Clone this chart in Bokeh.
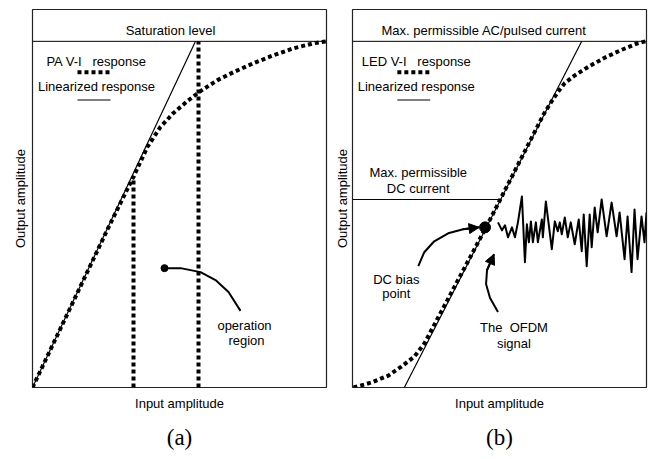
from bokeh.plotting import figure
from bokeh.models import Range1d, Arrow, NormalHead, FixedTicker
from bokeh.core.properties import value
from bokeh.layouts import row
from bokeh.embed import file_html
from bokeh.resources import INLINE

# ---------------- Panel (a): PA response (arbitrary amplitude units) ----------------
pa_x = [0, 75, 101, 115, 128, 141, 155, 168, 185, 201, 221, 241, 261, 281, 294]
pa_y = [0, 159, 212, 242, 262, 276, 288, 298, 309, 317, 326, 334, 341, 346, 348]
pa_lin_x = [0, 163]
pa_lin_y = [0, 348]
pa_sat_level = 348
pa_op_x = [101, 166]          # operation region boundaries (input amplitude)
pa_op_top = [212, 348]        # output amplitude where each boundary ends
pa_arc_x = [132, 148, 168, 183, 196, 208]
pa_arc_y = [120, 120, 116, 108, 96, 77]
pa_leg_x = [45, 78]
pa_leg_dot_y = 317
pa_leg_line_y = 289
pa_text = ["Saturation level", "PA V-I\u00a0\u00a0 response", "Linearized response", "operation", "region"]
pa_text_x = [138, 64, 64, 212, 214]
pa_text_y = [359, 328, 303, 62, 47]

# ---------------- Panel (b): LED response ----------------
led_x = [1, 19, 36, 49, 62, 72, 134, 192, 200, 206, 213, 222, 236, 252, 269, 286, 294]
led_y = [0, 5, 12, 21, 31, 44, 161, 275, 288, 297, 306, 313, 322, 331, 339, 346, 348]
led_lin_x = [52, 230]
led_lin_y = [0, 348]
ac_max = 348
dc_max = 189
dc_end = 146
bias_x = [133]
bias_y = [161]
ofdm_x = [146, 150, 153, 156, 160, 163, 166, 170, 173, 175, 177, 179, 181, 184, 186, 190,
          191, 194, 200, 203, 206, 208, 210, 213, 216, 219, 223, 227, 230, 232, 235, 238,
          240, 243, 246, 250, 255, 260, 265, 268, 273, 276, 280, 283, 286, 290, 293, 295]
ofdm_y = [166, 158, 163, 151, 161, 151, 166, 192, 126, 164, 146, 167, 146, 166, 146, 169,
          151, 187, 139, 167, 157, 166, 154, 171, 151, 166, 144, 169, 137, 174, 122, 174,
          141, 181, 156, 189, 152, 186, 152, 176, 129, 172, 116, 179, 129, 172, 146, 176]
bias_arrow_x = [66, 72, 82, 96, 111, 127]
bias_arrow_y = [122, 136, 147, 155, 159, 161]
sig_arrow_x = [146, 138, 134, 135, 142]
sig_arrow_y = [76, 90, 104, 118, 134]
led_leg_x = [45, 78]
led_leg_dot_y = 317
led_leg_line_y = 289
led_text = ["Max. permissible AC/pulsed current", "LED V-I\u00a0\u00a0 response", "Linearized response",
            "Max. permissible", "DC current", "DC bias", "point", "The\u00a0 OFDM", "signal"]
led_text_x = [132, 64, 64, 66, 66, 44, 44, 162, 162]
led_text_y = [359, 328, 303, 216, 200, 109, 94, 60, 44]

FONT = "Liberation Sans"
SERIF = "Liberation Serif"
DOT = dict(line_width=4, line_dash="4 3", line_color="black", line_cap="butt")


def make_panel(xmax, width, left, right, ystand, caption):
    p = figure(width=width, height=459, x_range=Range1d(0, xmax), y_range=Range1d(0, 380),
               output_backend="svg", toolbar_location=None,
               min_border_left=left, min_border_right=right, min_border_top=9, min_border_bottom=70,
               title=caption, title_location="below")
    p.grid.visible = False
    p.outline_line_color = "#222222"
    p.outline_line_width = 1.2
    for ax in (p.xaxis[0], p.yaxis[0]):
        ax.ticker = FixedTicker(ticks=[])
        ax.axis_line_color = None
        ax.major_tick_line_color = None
        ax.minor_tick_line_color = None
        ax.major_label_standoff = 0
        ax.axis_label_text_font = FONT
        ax.axis_label_text_font_size = "13px"
        ax.axis_label_text_font_style = "normal"
        ax.axis_label_text_color = "black"
    p.xaxis.axis_label = "Input amplitude"
    p.xaxis.axis_label_standoff = 8
    p.yaxis.axis_label = "Output amplitude"
    p.yaxis.axis_label_standoff = ystand
    p.title.align = "center"
    p.title.text_font = SERIF
    p.title.text_font_size = "23px"
    p.title.text_font_style = "normal"
    p.title.text_color = "black"
    p.title.standoff = 19
    return p


def add_texts(p, texts, xs, ys):
    p.text(x=xs, y=ys, text=texts, text_align="center", text_baseline="middle",
           text_font=value(FONT), text_font_size="13px", text_color="black")


# ---- (a)
pa = make_panel(294, 331, 32, 5, 5, "(a)")
pa.line([0, 294], [pa_sat_level, pa_sat_level], line_color="black", line_width=1)
pa.line(pa_lin_x, pa_lin_y, line_color="black", line_width=1.2)
pa.line(pa_x, pa_y, **DOT)
for xv, top in zip(pa_op_x, pa_op_top):
    pa.line([xv, xv], [0, top], **DOT)
pa.line(pa_leg_x, [pa_leg_dot_y, pa_leg_dot_y], **DOT)
pa.line(pa_leg_x, [pa_leg_line_y, pa_leg_line_y], line_color="black", line_width=1.2)
pa.line(pa_arc_x, pa_arc_y, line_color="black", line_width=2)
pa.scatter(pa_arc_x[:1], pa_arc_y[:1], size=7, color="black")
add_texts(pa, pa_text, pa_text_x, pa_text_y)

# ---- (b)
pb = make_panel(295, 318, 20, 3, 3, "(b)")
pb.line([0, 295], [ac_max, ac_max], line_color="black", line_width=1)
pb.line([0, dc_end], [dc_max, dc_max], line_color="black", line_width=1)
pb.line(led_lin_x, led_lin_y, line_color="black", line_width=1.2)
pb.line(led_x, led_y, **DOT)
pb.line(ofdm_x, ofdm_y, line_color="black", line_width=2, line_join="round")
pb.scatter(bias_x, bias_y, size=11, color="black")
pb.line(led_leg_x, [led_leg_dot_y, led_leg_dot_y], **DOT)
pb.line(led_leg_x, [led_leg_line_y, led_leg_line_y], line_color="black", line_width=1.2)
pb.line(bias_arrow_x, bias_arrow_y, line_color="black", line_width=2, line_join="round")
pb.add_layout(Arrow(end=NormalHead(size=10, fill_color="black", line_color="black"),
                    x_start=bias_arrow_x[-2], y_start=bias_arrow_y[-2],
                    x_end=bias_arrow_x[-1], y_end=bias_arrow_y[-1], line_width=2))
pb.line(sig_arrow_x, sig_arrow_y, line_color="black", line_width=2, line_join="round")
pb.add_layout(Arrow(end=NormalHead(size=10, fill_color="black", line_color="black"),
                    x_start=sig_arrow_x[-2], y_start=sig_arrow_y[-2],
                    x_end=sig_arrow_x[-1], y_end=sig_arrow_y[-1], line_width=2))
add_texts(pb, led_text, led_text_x, led_text_y)

layout = row(pa, pb, spacing=0)
open("out.html", "w").write(file_html(layout, INLINE))
